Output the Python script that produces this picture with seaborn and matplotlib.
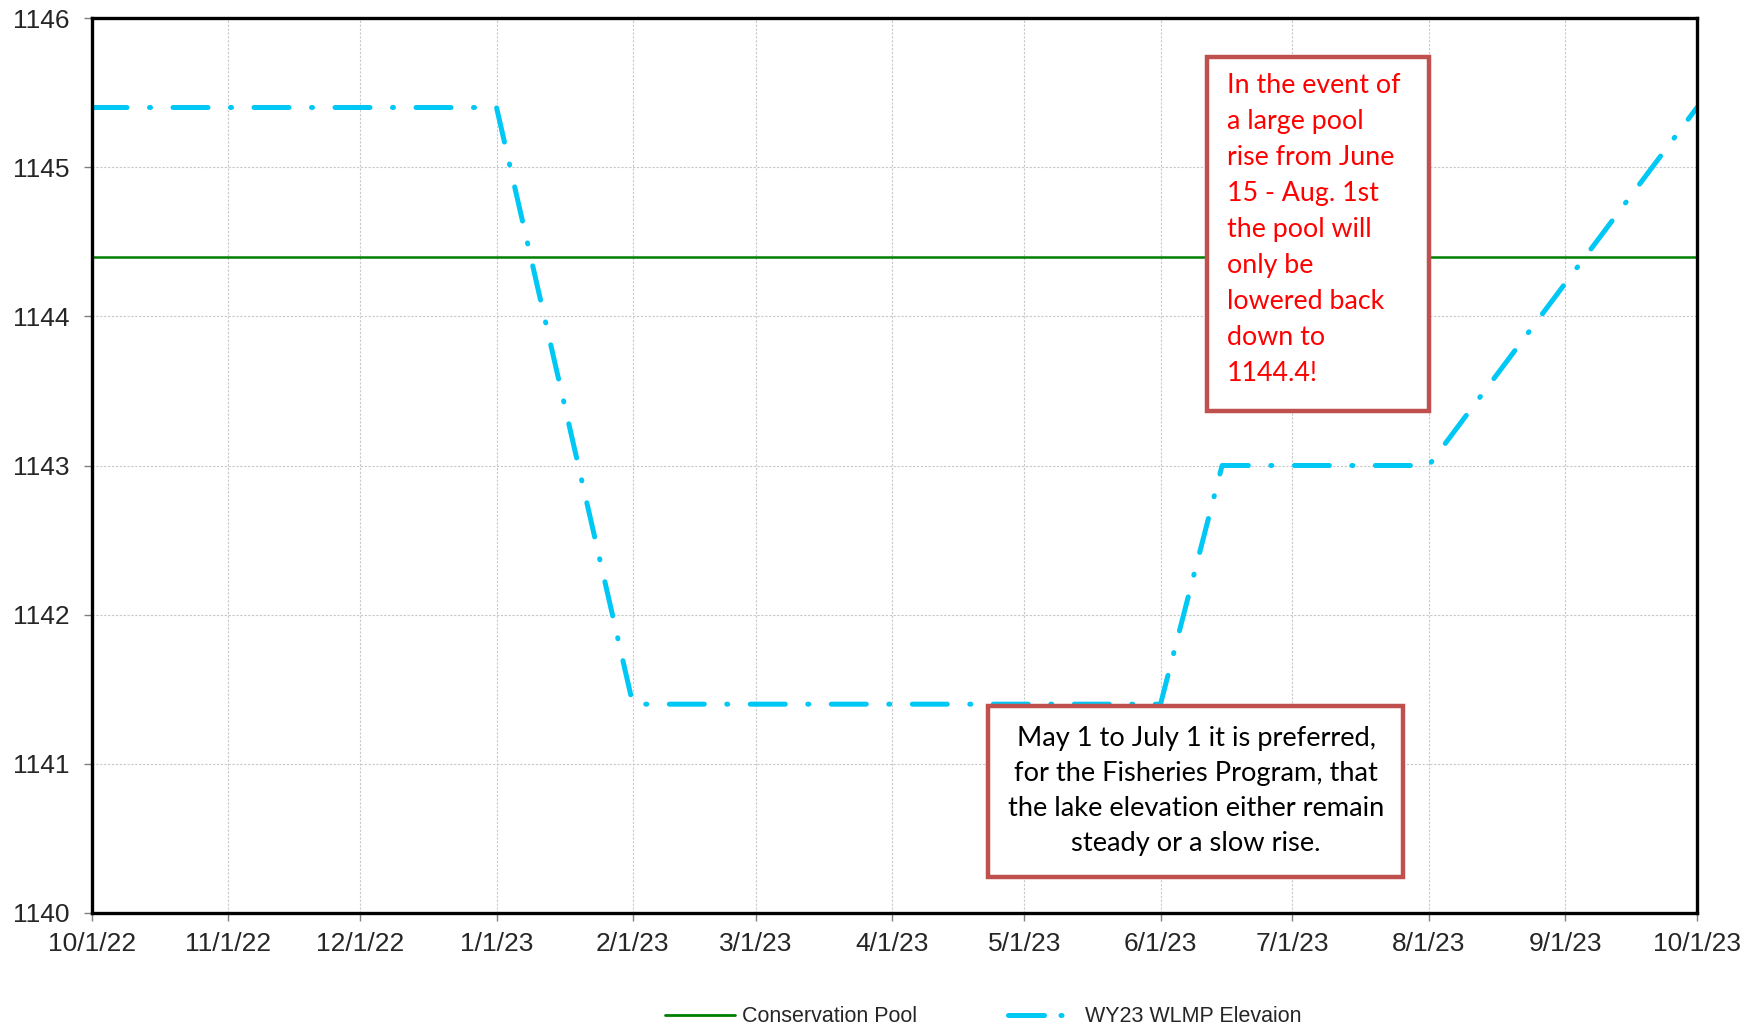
import pandas as pd
import numpy as np
import matplotlib
matplotlib.use("Agg")
import matplotlib.pyplot as plt
import matplotlib.dates as mdates
from matplotlib.patches import Rectangle
from matplotlib.lines import Line2D
import seaborn as sns

# WY23 water level management plan (elevation, ft)
wlmp_dates = ["2022-10-01", "2023-01-01", "2023-02-01", "2023-06-01",
              "2023-06-15", "2023-08-01", "2023-10-01"]
wlmp_elev = [1145.4, 1145.4, 1141.4, 1141.4, 1143.0, 1143.0, 1145.4]

# conservation pool
pool_dates = ["2022-10-01", "2023-10-01"]
pool_elev = [1144.4, 1144.4]

y_ticks = [1140, 1141, 1142, 1143, 1144, 1145, 1146]

note_red = ("In the event of\na large pool\nrise from June\n15 - Aug. 1st\n"
            "the pool will\nonly be\nlowered back\ndown to\n1144.4!")
note_black = ("May 1 to July 1 it is preferred,\nfor the Fisheries Program, that\n"
              "the lake elevation either remain\nsteady or a slow rise.")

wlmp = pd.DataFrame({"date": pd.to_datetime(wlmp_dates), "elev": wlmp_elev})
pool = pd.DataFrame({"date": pd.to_datetime(pool_dates), "elev": pool_elev})

sns.set_style("white")
plt.rcParams["font.family"] = ["Liberation Sans", "DejaVu Sans"]
plt.rcParams["xtick.labelsize"] = 19
plt.rcParams["ytick.labelsize"] = 19

W, H = 1747, 1029
fig, ax = plt.subplots(figsize=(W / 100, H / 100), dpi=100)
fig.subplots_adjust(left=92 / W, right=1697 / W, top=1 - 18 / H, bottom=1 - 913 / H)

green = "#008000"
blue = "#00C8F5"
sns.lineplot(data=pool, x="date", y="elev", ax=ax, color=green,
             linewidth=1.8, legend=False)
sns.lineplot(data=wlmp, x="date", y="elev", ax=ax, color=blue,
             linewidth=3.6, linestyle=(0, (7, 4.5, 0.2, 4.5)),
             dash_capstyle="round", solid_capstyle="round", legend=False)

ax.set_xlim(pd.Timestamp("2022-10-01"), pd.Timestamp("2023-10-01"))
ax.set_ylim(1140, 1146)
ax.set_yticks(y_ticks)
ax.xaxis.set_major_locator(mdates.MonthLocator())
ax.xaxis.set_major_formatter(mdates.DateFormatter("%-m/%-d/%y"))
ax.set_xlabel("")
ax.set_ylabel("")

ax.grid(True, color="#c8c8c8", linestyle=(0, (2, 1.5)), linewidth=0.8)
ax.set_axisbelow(True)
for s in ax.spines.values():
    s.set_color("black")
    s.set_linewidth(2.4)
ax.tick_params(axis="both", which="major", length=6, width=1, color="#808080",
               labelsize=19, direction="out", bottom=True, left=True)
ax.tick_params(axis="x", pad=8)
ax.tick_params(axis="y", pad=10)

# legend handles with the shorter pattern used in the key
handles = [Line2D([], [], color=green, linewidth=2.0),
           Line2D([], [], color=blue, linewidth=3.6,
                  linestyle=(0, (7.2, 3.3, 0.2, 10)), dash_capstyle="round")]
labels = ["Conservation Pool", "WY23 WLMP Elevaion"]
fig.legend(handles, labels, loc="center", bbox_to_anchor=(983 / W, 12 / H),
           ncol=2, frameon=False, handlelength=3.25,
           handletextpad=0.33, columnspacing=4.2,
           prop={"family": ["Liberation Sans", "DejaVu Sans"], "size": 15.5})


def box(x0, y0, x1, y1):
    fig.patches.append(Rectangle((x0 / W, 1 - y1 / H), (x1 - x0) / W, (y1 - y0) / H,
                                 transform=fig.transFigure, facecolor="white",
                                 edgecolor="#C0504D", linewidth=3.2, zorder=5))


box(1207, 57, 1429, 411)
fig.text(1227 / W, 1 - 73 / H, note_red, color="#FF0000", ha="left", va="top",
         fontsize=19.3, linespacing=1.55, family=["Lato", "DejaVu Sans"], zorder=6)

box(988, 706, 1403, 877)
fig.text(1196 / W, 1 - 791 / H, note_black, color="black", ha="center", va="center",
         fontsize=19.6, linespacing=1.5, family=["Lato", "DejaVu Sans"], zorder=6)

fig.savefig("out.png", dpi=100)
